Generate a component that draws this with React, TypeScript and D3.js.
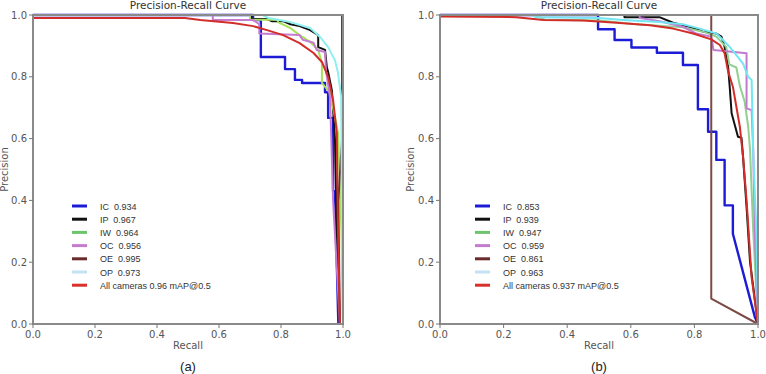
import React from 'react';
import * as d3 from 'd3';

type Pt = [number, number];

// series names shown in the legend
const names = ['IC', 'IP', 'IW', 'OC', 'OE', 'OP'];
const apA = ['0.934', '0.967', '0.964', '0.956', '0.995', '0.973'];
const apB = ['0.853', '0.939', '0.947', '0.959', '0.861', '0.963'];
const mapA = '0.96';
const mapB = '0.937';

const legendColors = ['#1c1cd6', '#111111', '#6cc46c', '#c57ccf', '#6a2b2b', '#c4e2f2', '#d8302a'];
const lineColorsA = ['#1c1cd6', '#111111', '#a8e05a', '#c57ccf', '#6a2b2b', '#8ef0f0', '#d22d28'];
const lineColorsB = ['#1c1cd6', '#111111', '#92d092', '#c07ad0', '#7c4a45', '#72e6f2', '#d22d28'];

const ticks = [0, 0.2, 0.4, 0.6, 0.8, 1.0];

// panel (a) — recall, precision
const icA: Pt[] = [[0, 1], [0.71, 1], [0.71, 0.984], [0.735, 0.984], [0.735, 0.864], [0.813, 0.864], [0.813, 0.825], [0.845, 0.825], [0.845, 0.79], [0.868, 0.79], [0.868, 0.78], [0.942, 0.78], [0.942, 0.75], [0.952, 0.75], [0.952, 0.667], [0.968, 0.667], [0.968, 0.43], [0.974, 0.43], [0.985, 0]];
const ipA: Pt[] = [[0, 1], [0.705, 1], [0.705, 0.987], [0.755, 0.987], [0.77, 0.98], [0.807, 0.98], [0.83, 0.97], [0.86, 0.964], [0.894, 0.951], [0.92, 0.935], [0.92, 0.896], [0.942, 0.887], [0.948, 0.83], [0.952, 0.816], [0.964, 0.757], [0.974, 0.6], [0.98, 0.3], [0.99, 0]];
const iwA: Pt[] = [[0, 1], [0.7, 1], [0.7, 0.985], [0.79, 0.985], [0.79, 0.977], [0.83, 0.958], [0.86, 0.935], [0.894, 0.913], [0.92, 0.887], [0.932, 0.845], [0.932, 0.78], [0.958, 0.748], [0.974, 0.67], [0.984, 0.618], [0.995, 0.3], [1, 0]];
const ocA: Pt[] = [[0, 1], [0.58, 1], [0.58, 0.984], [0.71, 0.984], [0.73, 0.97], [0.73, 0.94], [0.86, 0.935], [0.87, 0.92], [0.905, 0.91], [0.915, 0.887], [0.942, 0.88], [0.945, 0.82], [0.958, 0.735], [0.962, 0.606], [0.968, 0.4], [0.99, 0]];
const oeA: Pt[] = [[0, 1], [0.997, 1], [0.997, 0.6], [0.985, 0.4], [0.99, 0]];
const opA: Pt[] = [[0, 1], [0.74, 1], [0.76, 0.99], [0.83, 0.977], [0.894, 0.958], [0.926, 0.929], [0.952, 0.896], [0.974, 0.854], [0.984, 0.812], [0.994, 0.735], [0.997, 0.3], [1, 0]];
const allA: Pt[] = [[0, 0.99], [0.49, 0.99], [0.54, 0.984], [0.645, 0.974], [0.71, 0.964], [0.755, 0.951], [0.807, 0.935], [0.86, 0.909], [0.905, 0.877], [0.932, 0.848], [0.952, 0.8], [0.968, 0.725], [0.98, 0.618], [0.983, 0.35], [0.99, 0]];

// panel (b)
const icB: Pt[] = [[0, 1], [0.497, 1], [0.497, 0.954], [0.549, 0.954], [0.549, 0.919], [0.602, 0.919], [0.602, 0.895], [0.682, 0.895], [0.682, 0.878], [0.764, 0.878], [0.764, 0.838], [0.811, 0.838], [0.811, 0.695], [0.843, 0.695], [0.843, 0.622], [0.869, 0.622], [0.869, 0.531], [0.895, 0.531], [0.895, 0.384], [0.921, 0.384], [0.921, 0.292], [0.99, 0.023], [1, 0]];
const ipB: Pt[] = [[0, 1], [0.58, 1], [0.58, 0.993], [0.69, 0.993], [0.733, 0.975], [0.785, 0.962], [0.827, 0.946], [0.869, 0.94], [0.885, 0.93], [0.895, 0.897], [0.906, 0.833], [0.911, 0.768], [0.917, 0.682], [0.927, 0.644], [0.937, 0.606], [0.948, 0.603], [0.953, 0.541], [0.964, 0.38], [0.975, 0.2], [1, 0]];
const iwB: Pt[] = [[0, 1], [0.3, 1], [0.33, 0.985], [0.5, 0.982], [0.61, 0.971], [0.712, 0.964], [0.764, 0.96], [0.827, 0.946], [0.869, 0.93], [0.9, 0.897], [0.91, 0.84], [0.932, 0.83], [0.943, 0.77], [0.958, 0.72], [0.969, 0.64], [0.975, 0.563], [0.985, 0.3], [1, 0]];
const ocB: Pt[] = [[0, 1], [0.628, 1], [0.628, 0.99], [0.691, 0.98], [0.764, 0.962], [0.806, 0.94], [0.853, 0.93], [0.86, 0.887], [0.917, 0.881], [0.964, 0.876], [0.964, 0.698], [0.98, 0.692], [0.985, 0.563], [0.99, 0.3], [1, 0]];
const oeB: Pt[] = [[0, 1], [0.853, 1], [0.853, 0.082], [1, 0]];
const opB: Pt[] = [[0, 1], [0.29, 1], [0.3, 0.993], [0.5, 0.99], [0.577, 0.984], [0.69, 0.977], [0.764, 0.97], [0.817, 0.956], [0.869, 0.94], [0.89, 0.919], [0.911, 0.897], [0.932, 0.87], [0.953, 0.843], [0.969, 0.8], [0.98, 0.79], [0.985, 0.55], [0.995, 0.3], [1, 0]];
const allB: Pt[] = [[0, 0.995], [0.24, 0.993], [0.325, 0.984], [0.45, 0.982], [0.555, 0.975], [0.66, 0.967], [0.733, 0.956], [0.796, 0.94], [0.853, 0.921], [0.88, 0.903], [0.895, 0.876], [0.906, 0.817], [0.921, 0.768], [0.932, 0.703], [0.943, 0.638], [0.953, 0.541], [0.964, 0.4], [0.98, 0.15], [1, 0]];

const FONT = 'DejaVu Sans, sans-serif';

type PanelProps = {
  x0: number;
  x1: number;
  series: Pt[][];
  colors: string[];
  aps: string[];
  map: string;
  tag: string;
  legendX: number;
  ylabelX: number;
};

const Panel = ({ x0, x1, series, colors, aps, map, tag, legendX, ylabelX }: PanelProps) => {
  const top = 15;
  const bottom = 324;
  const x = d3.scaleLinear().domain([0, 1]).range([x0, x1]);
  const y = d3.scaleLinear().domain([0, 1]).range([bottom, top]);
  const line = d3
    .line<Pt>()
    .x((d) => x(d[0]))
    .y((d) => y(d[1]));
  const cx = (x0 + x1) / 2;
  const labels = names.map((n, i) => `${n}  ${aps[i]}`).concat(`All cameras ${map} mAP@0.5`);

  return (
    <g>
      {series.map((s, i) => (
        <path
          key={i}
          d={line(s) || ''}
          fill="none"
          stroke={colors[i]}
          strokeWidth={i === 0 ? 2.4 : 2}
          strokeLinejoin="round"
        />
      ))}
      {/* frame drawn over the curves, like matplotlib spines */}
      <rect x={x0} y={top} width={x1 - x0} height={bottom - top} fill="none" stroke="#8a8a8a" strokeWidth={2} />
      {/* axes */}
      {ticks.map((t) => (
        <g key={'x' + t}>
          <line x1={x(t)} x2={x(t)} y1={bottom} y2={bottom + 4} stroke="#777" />
          <text x={x(t)} y={bottom + 14} textAnchor="middle" fontSize={10} fill="#555" fontFamily={FONT}>
            {t.toFixed(1)}
          </text>
        </g>
      ))}
      {ticks.map((t) => (
        <g key={'y' + t}>
          <line x1={x0 - 4} x2={x0} y1={y(t)} y2={y(t)} stroke="#777" />
          <text x={x0 - 6} y={y(t) + 3.5} textAnchor="end" fontSize={10} fill="#555" fontFamily={FONT}>
            {t.toFixed(1)}
          </text>
        </g>
      ))}
      <text x={cx} y={9} textAnchor="middle" fontSize={10.5} fill="#333" fontFamily={FONT}>
        Precision-Recall Curve
      </text>
      <text x={cx} y={349} textAnchor="middle" fontSize={10} fill="#555" fontFamily={FONT}>
        Recall
      </text>
      <text
        transform={`translate(${ylabelX},${(top + bottom) / 2}) rotate(-90)`}
        textAnchor="middle"
        fontSize={10}
        fill="#555"
        fontFamily={FONT}
      >
        Precision
      </text>
      <text x={cx} y={371} textAnchor="middle" fontSize={13} fill="#222" fontFamily="Liberation Sans, Arial, sans-serif">
        {tag}
      </text>
      {/* legend */}
      {labels.map((l, i) => (
        <g key={l} transform={`translate(${legendX},${206 + i * 13.2})`}>
          <line x1={0} x2={15} y1={0} y2={0} stroke={legendColors[i]} strokeWidth={3} />
          <text x={28} y={3.5} fontSize={9} fill="#333" fontFamily="Liberation Sans, Arial, sans-serif" style={{ whiteSpace: 'pre' }}>
            {l}
          </text>
        </g>
      ))}
    </g>
  );
};

const App = () => {
  return (
    <svg width={766} height={374} style={{ position: 'absolute', left: 0, top: 0, background: '#fff' }}>
      <rect width={766} height={374} fill="#fff" />
      <Panel
        x0={33}
        x1={343}
        series={[icA, ipA, iwA, ocA, oeA, opA, allA]}
        colors={lineColorsA}
        aps={apA}
        map={mapA}
        tag="(a)"
        legendX={72}
        ylabelX={8}
      />
      <Panel
        x0={440}
        x1={758}
        series={[icB, ipB, iwB, ocB, oeB, opB, allB]}
        colors={lineColorsB}
        aps={apB}
        map={mapB}
        tag="(b)"
        legendX={475}
        ylabelX={414}
      />
    </svg>
  );
};

export default App;
